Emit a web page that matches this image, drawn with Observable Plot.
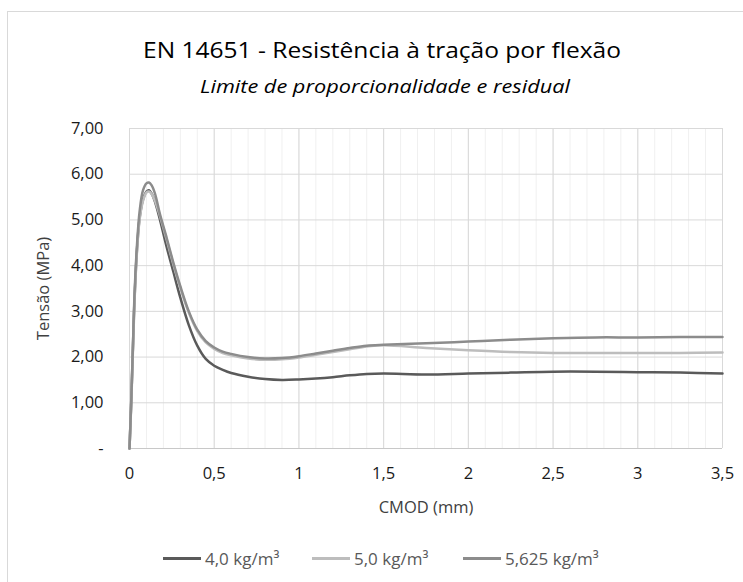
<!DOCTYPE html>
<html>
<head>
<meta charset="utf-8">
<script src="https://cdn.jsdelivr.net/npm/d3@7"></script>
<script src="https://cdn.jsdelivr.net/npm/@observablehq/plot@0.6"></script>
<style>
  html, body { margin: 0; padding: 0; background: #fff; overflow: hidden; }
  #wrap { position: relative; width: 743px; height: 582px; overflow: hidden; font-family: "Open Sans", Lato, sans-serif; }
  #border { position: absolute; left: 7px; top: 11px; width: 800px; height: 700px; border: 1px solid #d9d9d9; box-sizing: border-box; }
  #title { position: absolute; left: 143px; top: 40px; font-size: 21px; color: #000; white-space: nowrap; line-height: 1; transform-origin: 0 0; }
  #subtitle { position: absolute; left: 200px; top: 77px; font-size: 18px; font-style: italic; color: #000; white-space: nowrap; line-height: 1; transform-origin: 0 0; }
  #chart { position: absolute; left: 0; top: 110px; }
  #chart g[aria-label="x-axis label"], #chart g[aria-label="y-axis label"] { font-size: 16.5px; fill: #404040; }
  #chart g[aria-label="x-axis tick label"], #chart g[aria-label="y-axis tick label"] { fill: #1a1a1a; }
  .item { position: absolute; top: 550px; display: flex; align-items: center; font-size: 17px; color: #595959; white-space: nowrap; line-height: 1; }
  .sw { display: inline-block; width: 38px; height: 3px; margin-right: 4px; }
</style>
</head>
<body>
<div id="wrap">
  <div id="border"></div>
  <div id="title"></div>
  <div id="subtitle"></div>
  <div id="chart"></div>
</div>
<script>
const chartTitle = "EN 14651 - Resistência à tração por flexão";
const chartSubtitle = "Limite de proporcionalidade e residual";
const xLabel = "CMOD (mm)";
const yLabel = "Tensão (MPa)";
const seriesNames = ["4,0 kg/m³", "5,0 kg/m³", "5,625 kg/m³"];
const seriesColors = ["#5a5a5a", "#bdbdbd", "#8c8c8c"];

const cmod = [0, 0.01, 0.02, 0.03, 0.045, 0.06, 0.08, 0.1, 0.115, 0.13, 0.15, 0.18, 0.22, 0.26, 0.3, 0.35, 0.4, 0.45, 0.5, 0.55, 0.6, 0.7, 0.8, 0.9, 1.0, 1.1, 1.2, 1.3, 1.4, 1.5, 1.75, 2.0, 2.25, 2.5, 2.75, 3.0, 3.25, 3.5];
const tensao40 = [0, 1.0, 2.2, 3.3, 4.4, 5.05, 5.45, 5.62, 5.65, 5.58, 5.4, 5.0, 4.4, 3.85, 3.3, 2.7, 2.25, 1.96, 1.81, 1.72, 1.65, 1.57, 1.52, 1.50, 1.51, 1.53, 1.56, 1.60, 1.63, 1.64, 1.62, 1.64, 1.66, 1.68, 1.68, 1.67, 1.66, 1.64];
const tensao50 = [0, 0.95, 2.1, 3.25, 4.35, 5.02, 5.42, 5.6, 5.62, 5.57, 5.42, 5.08, 4.56, 4.01, 3.51, 2.97, 2.57, 2.32, 2.18, 2.09, 2.04, 1.97, 1.94, 1.95, 1.99, 2.05, 2.11, 2.17, 2.23, 2.26, 2.20, 2.15, 2.11, 2.09, 2.09, 2.09, 2.09, 2.10];
const tensao5625 = [0, 1.0, 2.2, 3.4, 4.5, 5.2, 5.65, 5.8, 5.82, 5.76, 5.58, 5.12, 4.6, 4.05, 3.55, 3.0, 2.6, 2.35, 2.21, 2.12, 2.07, 2.0, 1.97, 1.98, 2.02, 2.08, 2.14, 2.2, 2.25, 2.27, 2.30, 2.34, 2.38, 2.41, 2.43, 2.43, 2.44, 2.44];

const xTicks = [0, 0.5, 1, 1.5, 2, 2.5, 3, 3.5];
const xMinorTicks = d3.range(0, 36).map(i => i / 10);
const yTicks = [0, 1, 2, 3, 4, 5, 6, 7];

const seriesValues = [tensao40, tensao50, tensao5625];
const data = seriesValues.flatMap((vals, s) => vals.map((v, i) => ({x: cmod[i], y: v, s: seriesNames[s]})));

const fmtX = d => String(d).replace(".", ",");
const fmtY = d => d === 0 ? "-" : d.toFixed(2).replace(".", ",");

function fitX(el, text, targetWidth) {
  el.textContent = text;
  const w = el.getBoundingClientRect().width;
  if (w > 0) el.style.transform = "scaleX(" + (targetWidth / w) + ")";
}
fitX(document.getElementById("title"), chartTitle, 478);
fitX(document.getElementById("subtitle"), chartSubtitle, 370);

const plot = Plot.plot({
  width: 743,
  height: 420,
  marginLeft: 129,
  marginRight: 21,
  marginTop: 18,
  marginBottom: 82,
  style: {fontFamily: "'Open Sans', Lato, sans-serif", fontSize: "16.5px", color: "#000", background: "transparent"},
  x: {domain: [0, 3.5]},
  y: {domain: [0, 7]},
  color: {domain: seriesNames, range: seriesColors},
  marks: [
    Plot.gridX(xMinorTicks, {stroke: "#f0f0f0", strokeOpacity: 1}),
    Plot.gridX(xTicks, {stroke: "#d9d9d9", strokeOpacity: 1}),
    Plot.gridY(yTicks, {stroke: "#d9d9d9", strokeOpacity: 1}),
    Plot.ruleY([0], {stroke: "#c8c8c8"}),
    Plot.axisX(xTicks, {tickSize: 0, tickPadding: 19, tickFormat: fmtX, fontSize: 16.5, label: xLabel, labelAnchor: "center", labelArrow: "none", labelOffset: 64}),
    Plot.axisY(yTicks, {tickSize: 0, tickPadding: 26, tickFormat: fmtY, fontSize: 16.5, label: yLabel, labelAnchor: "center", labelArrow: "none", labelOffset: 92}),
    Plot.line(data, {x: "x", y: "y", z: "s", stroke: "s", strokeWidth: 2.5, curve: "catmull-rom"})
  ]
});
document.getElementById("chart").appendChild(plot);

const legendLefts = [163, 312, 463];
const wrap = document.getElementById("wrap");
seriesNames.forEach((n, i) => {
  const it = document.createElement("div");
  it.className = "item";
  it.style.left = legendLefts[i] + "px";
  const sw = document.createElement("span");
  sw.className = "sw";
  sw.style.background = seriesColors[i];
  const t = document.createElement("span");
  t.textContent = n;
  it.appendChild(sw);
  it.appendChild(t);
  wrap.appendChild(it);
});
</script>
</body>
</html>
